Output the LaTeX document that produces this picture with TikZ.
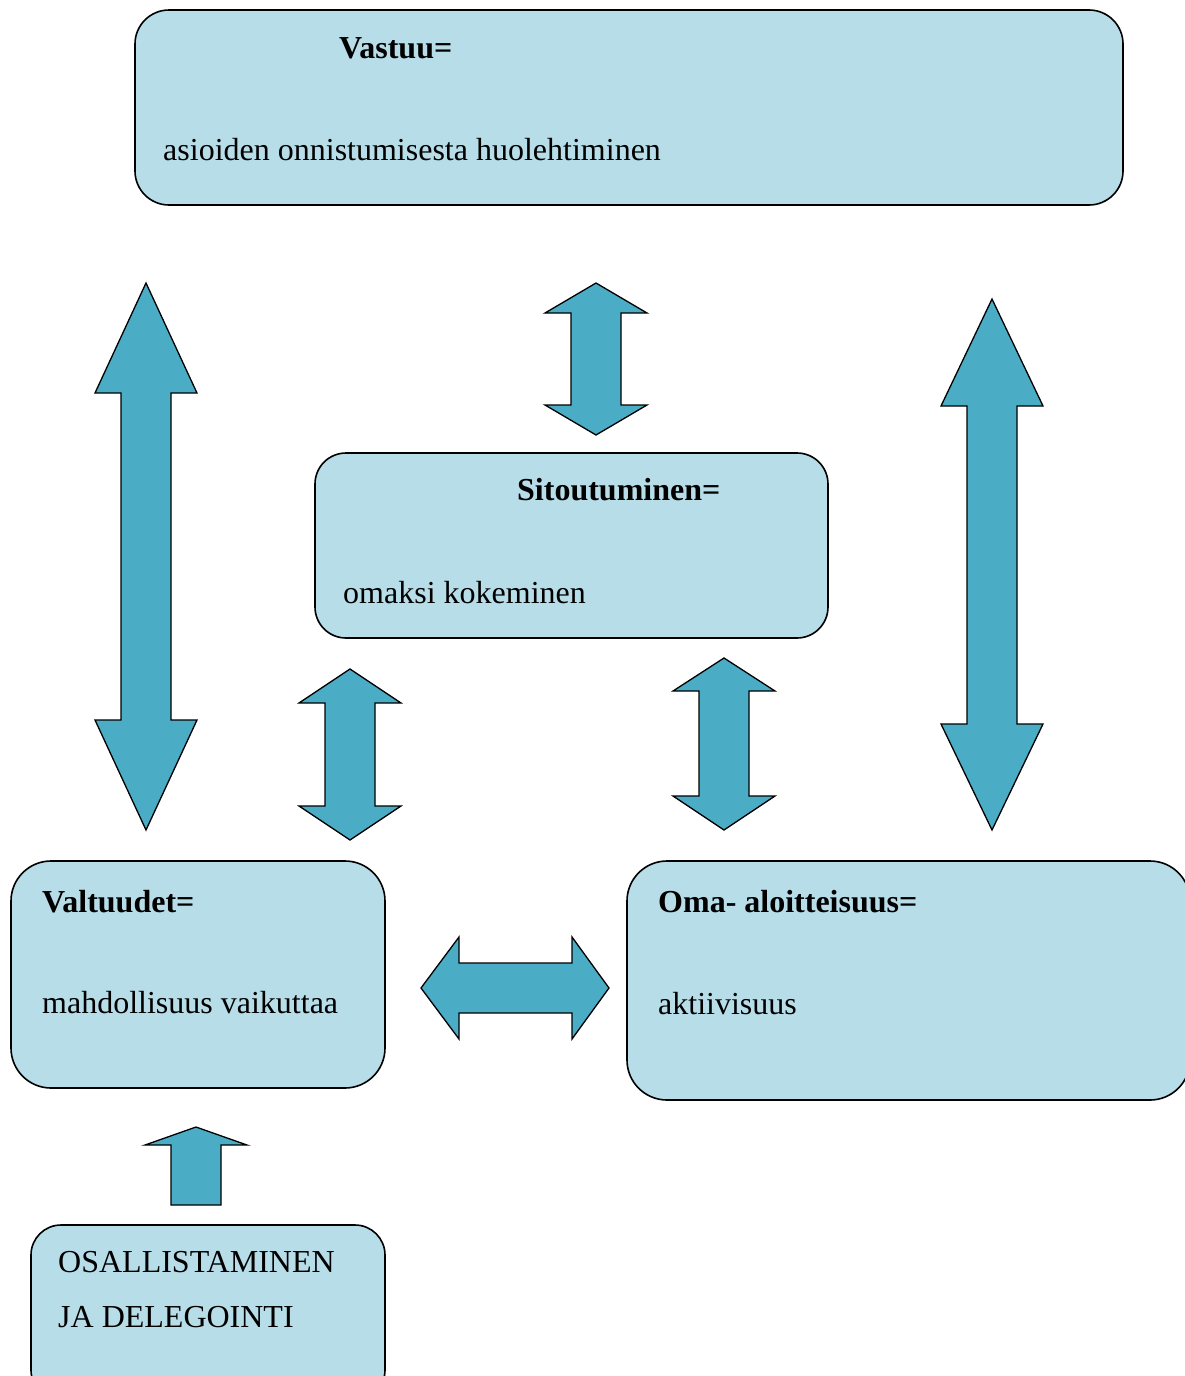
\documentclass[tikz,border=0pt]{standalone}
\usepackage{fontspec}
\setmainfont{Liberation Serif}
\usetikzlibrary{positioning}
\definecolor{boxblue}{HTML}{B7DDE8}
\definecolor{arrowblue}{HTML}{4BACC6}

% vertical double arrow: x, top tip, top head base, bottom head base, bottom tip
\newcommand{\vdarrow}[5]{%
  \draw[blockarrow] (#1,#2) -- (#1+51,#3) -- (#1+25,#3) -- (#1+25,#4) -- (#1+51,#4)
    -- (#1,#5) -- (#1-51,#4) -- (#1-25,#4) -- (#1-25,#3) -- (#1-51,#3) -- cycle;}

\begin{document}
\begin{tikzpicture}[x=1pt,y=-1pt,
    box/.style={draw=black,line width=1.6pt,fill=boxblue,rounded corners=#1,inner sep=0pt},
    box/.default=34pt,
    blockarrow/.style={draw=black,line width=1.3pt,fill=arrowblue,line join=miter},
    label/.style={anchor=base west,inner sep=0pt,font=\fontsize{32}{38}\selectfont},
    head/.style={label,font=\fontsize{32}{38}\selectfont\bfseries}]
    \useasboundingbox (0,0) rectangle (1185,1376);
    % boxes
    \node[box, minimum width=988pt, minimum height=195pt] (vastuu) at (629,107.5) {};
    \node[box=31pt, minimum width=513pt, minimum height=185pt] (sitout) at (571.5,545.5) {};
    \node[box=40pt, minimum width=374pt, minimum height=227pt] (valtuudet) at (198,974.5) {};
    \node[box=40pt, minimum width=563pt, minimum height=239pt] (oma) at (908.5,980.5) {};
    \node[box=30pt, minimum width=354pt, minimum height=175pt] (osal) at (208,1312.5) {};
    % texts
    \node[head] (vastuuhead) at (339,58) {Vastuu=};
    \node[label] (vastuutext) at (163,160) {asioiden onnistumisesta huolehtiminen};
    \node[head] (sitouthead) at (517,500) {Sitoutuminen=};
    \node[label] (sitouttext) at (343,603) {omaksi kokeminen};
    \node[head] (valthead) at (42,912) {Valtuudet=};
    \node[label] (valttext) at (42,1013) {mahdollisuus vaikuttaa};
    \node[head] (omahead) at (658,912) {Oma- aloitteisuus=};
    \node[label] (omatext) at (658,1014) {aktiivisuus};
    \node[label,align=left,font=\fontsize{32}{55}\selectfont] (osaltext) at (58,1327) {OSALLISTAMINEN\\JA DELEGOINTI};
    % arrows
    \vdarrow{146}{283}{393}{720}{830}
    \vdarrow{992}{299}{406}{724}{830}
    \vdarrow{596}{283}{313}{405}{435}
    \vdarrow{350}{669}{703}{806}{840}
    \vdarrow{724}{658}{691}{796}{830}
    \draw[blockarrow] (421,988) -- (459,937) -- (459,963) -- (572,963) -- (572,937) -- (609,988)
      -- (572,1039) -- (572,1013) -- (459,1013) -- (459,1039) -- cycle;
    \draw[blockarrow] (196,1127) -- (247,1145) -- (221,1145) -- (221,1205) -- (171,1205)
      -- (171,1145) -- (145,1145) -- cycle;
\end{tikzpicture}
\end{document}
